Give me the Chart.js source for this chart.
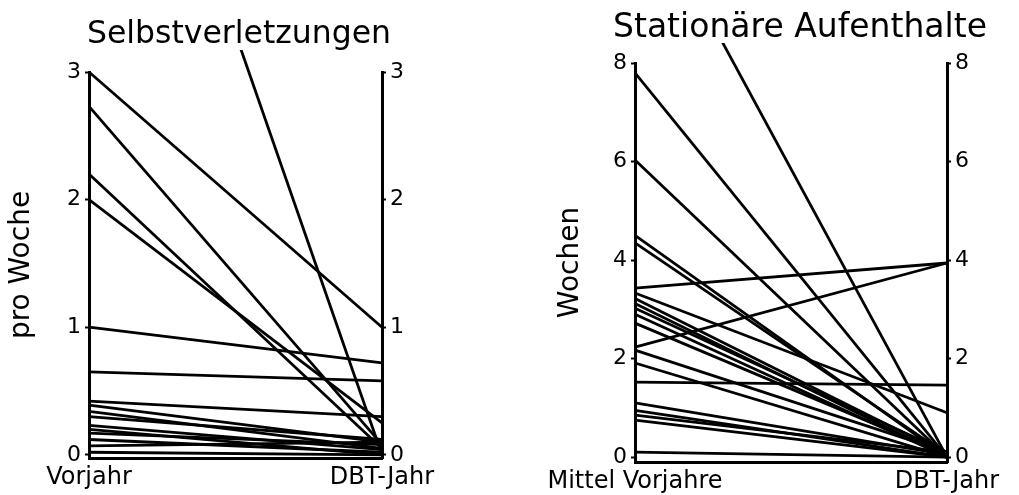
<!DOCTYPE html>
<html lang="de">
<head>
    <meta charset="UTF-8">
    <title>Selbstverletzungen / Stationäre Aufenthalte</title>
    <script src="https://cdn.jsdelivr.net/npm/chart.js"></script>
    <style>
        body {
            margin: 0;
            background: #fff;
            font-family: "DejaVu Sans", sans-serif;
        }
        #wrap {
            position: relative;
            width: 1019px;
            height: 495px;
        }
        #leftChart { position: absolute; left: 0; top: 0; }
        #rightChart { position: absolute; left: 500px; top: 0; }
    </style>
</head>
<body>
    <div id="wrap">
        <canvas id="leftChart" width="500" height="495"></canvas>
        <canvas id="rightChart" width="519" height="495"></canvas>
    </div>

    <script>
        // Selbstverletzungen pro Woche
        const labelsSV = ['Vorjahr', 'DBT-Jahr'];
        const vorjahrSV = [6.6, 3.0, 2.73, 2.2, 2.0, 1.0, 0.65, 0.42, 0.39, 0.34, 0.30, 0.23, 0.17, 0.12, 0.07, 0.02, 0.2];
        const dbtSV     = [0,   1.0, 0.08, 0.05, 0.25, 0.72, 0.58, 0.3, 0.1, 0.05, 0.12, 0.04, 0.08, 0.02, 0.1, 0.0, 0];
        const ticksSV = [0, 1, 2, 3];

        // Stationäre Aufenthalte in Wochen
        const labelsSA = ['Mittel Vorjahre', 'DBT-Jahr'];
        const mittelSA = [11.7, 7.8, 6.03, 4.5, 4.35, 3.43, 3.33, 3.22, 3.12, 3.02, 2.9, 2.72, 2.23, 2.17, 1.91, 1.52, 1.1, 0.95, 0.85, 0.75, 0.1];
        const dbtSA    = [0,    0,   0,    0,   0.05, 3.94, 0.9,  0.05, 0,    0.1,  0,   0.05, 3.94, 0.1,  0,    1.46, 0.05, 0,   0.1,  0,    0];
        const ticksSA = [0, 2, 4, 6, 8];

        // the panel titles sit off-centre, so they are drawn by hand
        const panelTitle = {
            id: 'panelTitle',
            afterDraw(chart, args, opts) {
                const ctx = chart.ctx;
                ctx.save();
                ctx.font = opts.size + 'px "DejaVu Sans"';
                ctx.fillStyle = '#000';
                ctx.textAlign = 'center';
                ctx.textBaseline = 'alphabetic';
                ctx.fillText(opts.text, opts.x, opts.y);
                ctx.restore();
            }
        };

        function makeChart(id, cfg) {
            const ctx = document.getElementById(id).getContext('2d');
            const datasets = cfg.before.map((v, i) => ({
                data: [v, cfg.after[i]],
                borderColor: '#000',
                borderWidth: 2.8,
                pointRadius: 0,
                tension: 0,
                // lines that start above the axis run on into the top margin
                clip: v > cfg.max ? { left: 0, top: cfg.overTop, right: 0, bottom: 0 } : 2
            }));

            const yCommon = {
                min: cfg.min,
                max: cfg.max,
                afterBuildTicks: s => { s.ticks = cfg.ticks.map(v => ({ value: v })); },
                grid: { drawOnChartArea: false, drawTicks: true, tickLength: 4, color: '#000', tickWidth: 2 },
                border: { color: '#000', width: 3 },
                ticks: { color: '#000', font: { family: 'DejaVu Sans', size: 22 }, padding: 4 }
            };

            return new Chart(ctx, {
                type: 'line',
                data: { labels: cfg.labels, datasets: datasets },
                plugins: [panelTitle],
                options: {
                    responsive: false,
                    animation: false,
                    layout: { padding: { top: cfg.top, left: 0, right: 0, bottom: 0 } },
                    plugins: {
                        legend: { display: false },
                        tooltip: { enabled: false },
                        title: { display: false },
                        panelTitle: { text: cfg.title, x: cfg.titleX, y: cfg.titleY, size: cfg.titleSize }
                    },
                    scales: {
                        x: {
                            type: 'category',
                            offset: false,
                            grid: { display: false, drawTicks: false },
                            border: { color: '#000', width: 3 },
                            ticks: { color: '#000', font: { family: 'DejaVu Sans', size: 24 }, padding: 5, maxRotation: 0, autoSkip: false },
                            afterFit: s => { s.height = 495 - cfg.bottom; }
                        },
                        y: Object.assign({}, yCommon, {
                            position: 'left',
                            title: {
                                display: true,
                                text: cfg.yTitle,
                                color: '#000',
                                font: { family: 'DejaVu Sans', size: 28 },
                                padding: { top: cfg.yTitlePad, bottom: 0 }
                            },
                            afterFit: s => { s.width = cfg.left; }
                        }),
                        y2: Object.assign({}, yCommon, {
                            position: 'right',
                            afterFit: s => { s.width = cfg.width - cfg.right; }
                        })
                    }
                }
            });
        }

        makeChart('leftChart', {
            title: 'Selbstverletzungen', yTitle: 'pro Woche',
            labels: labelsSV, before: vorjahrSV, after: dbtSV, ticks: ticksSV,
            min: -0.025, max: 3,
            width: 500, left: 89, right: 382, top: 72, bottom: 458,
            titleX: 239, titleY: 43, titleSize: 31.5, yTitlePad: 5, overTop: 22
        });

        makeChart('rightChart', {
            title: 'Stationäre Aufenthalte', yTitle: 'Wochen',
            labels: labelsSA, before: mittelSA, after: dbtSA, ticks: ticksSA,
            min: -0.1, max: 8,
            width: 519, left: 135, right: 447, top: 63, bottom: 462,
            titleX: 300, titleY: 37, titleSize: 33, yTitlePad: 54, overTop: 20
        });
    </script>
</body>
</html>
